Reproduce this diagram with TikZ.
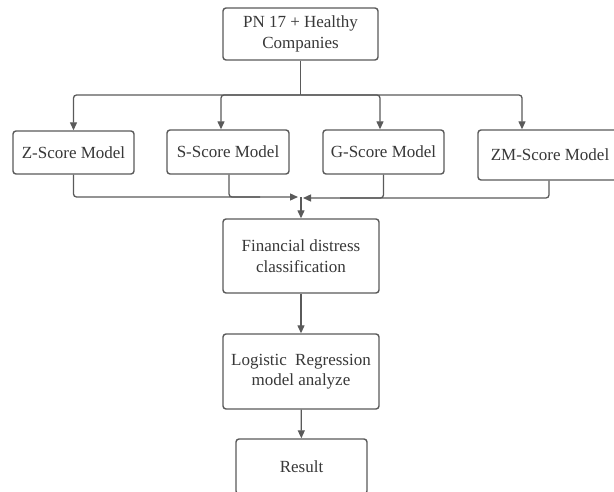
\documentclass[tikz,border=0pt]{standalone}
\usepackage{fontspec}
\setmainfont{Liberation Serif}
\usetikzlibrary{arrows.meta}
\definecolor{ln}{HTML}{5A5A5A}
\definecolor{tx}{HTML}{383838}
\begin{document}
\begin{tikzpicture}[x=1pt,y=-1pt,
  box/.style={draw=ln, line width=1.4pt, rounded corners=3pt, fill=white, text=tx,
    font=\fontsize{17}{20.5}\selectfont, align=center, inner sep=0pt},
  conn/.style={draw=ln, line width=1.3pt, rounded corners=3pt},
  arr/.style={conn, -{Triangle[length=8pt,width=7pt]}}]
\useasboundingbox (0,0) rectangle (614,492);
\fill[white] (0,0) rectangle (614,492);

\node[box, minimum width=155pt, minimum height=52pt] (top) at (300.5,34) {PN 17 + Healthy\\Companies};
\node[box, minimum width=121pt, minimum height=43pt] (z) at (73.5,152.5) {Z-Score Model};
\node[box, minimum width=122pt, minimum height=44pt] (s) at (228,152) {S-Score Model};
\node[box, minimum width=121pt, minimum height=44pt] (g) at (383.5,152) {G-Score Model};
\node[box, minimum width=144pt, minimum height=50pt] (zm) at (550,155) {ZM-Score Model};
\node[box, minimum width=156pt, minimum height=74pt] (fin) at (301,256) {Financial distress\\classification};
\node[box, minimum width=156pt, minimum height=75pt] (log) at (301,371.5) {Logistic\hspace{4pt} Regression\\model analyze};
\node[box, minimum width=131pt, minimum height=55pt, text depth=0pt] (res) at (301.5,466.5) {Result};

\coordinate (j) at (300.5,95);
\coordinate (mL) at (298,197);
\coordinate (mR) at (303,198);
\coordinate (m) at (301,197.5);
\coordinate (sj) at (260,197);
\coordinate (gj) at (340,198);

\draw[conn] (top) -- (j);
\draw[arr] (j) -| (z.north);
\draw[arr] (j) -| ([xshift=-7pt]s.north);
\draw[arr] (j) -| ([xshift=-3.5pt]g.north);
\draw[arr] (j) -| ([xshift=-28pt]zm.north);

\draw[arr] (z.south) |- (mL);
\draw[conn] ([xshift=1pt]s.south) |- (sj);
\draw[arr] ([xshift=-1pt]zm.south) |- (mR);
\draw[conn] (g.south) |- (gj);
\draw[arr] (m) -- (fin.north);

\draw[arr] (fin) -- (log);
\draw[arr] (log) -- (res);
\end{tikzpicture}
\end{document}
